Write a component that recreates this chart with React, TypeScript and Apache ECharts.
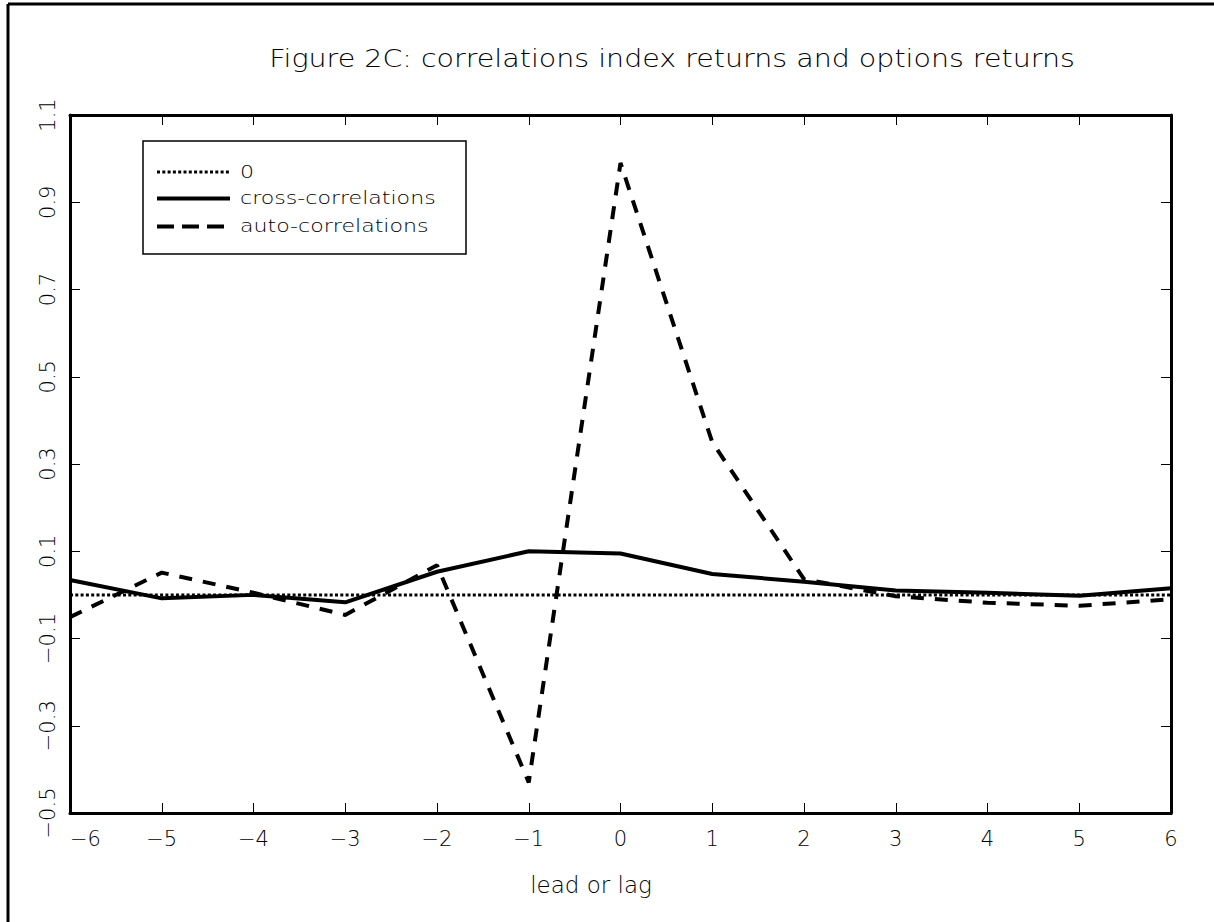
import React, { useEffect, useRef } from "react";
import * as echarts from "echarts";

const lags = [-6, -5, -4, -3, -2, -1, 0, 1, 2, 3, 4, 5, 6];
const zeroLine = [0, 0, 0, 0, 0, 0, 0, 0, 0, 0, 0, 0, 0];
const crossCorr = [0.034, -0.008, 0.0, -0.017, 0.053, 0.1, 0.095, 0.048, 0.03, 0.01, 0.005, -0.002, 0.015];
const autoCorr = [-0.051, 0.051, 0.005, -0.046, 0.068, -0.43, 0.99, 0.35, 0.036, -0.003, -0.018, -0.025, -0.01];
const seriesNames = ["0", "cross-correlations", "auto-correlations"];
const titleText = "Figure 2C: correlations index returns and options returns";
const xTitle = "lead or lag";

const FONT = "'DejaVu Sans', sans-serif";

const fmtMinus = (s: string) => s.replace("-", "\u2212");

export default function App() {
  const ref = useRef<HTMLDivElement>(null);
  useEffect(() => {
    const chart = echarts.init(ref.current!, null, { renderer: "svg" });
    const pairs = (vals: number[]) => lags.map((x, i) => [x, vals[i]]);
    const axisCommon = {
      type: "value" as const,
      axisLine: { show: true, onZero: false, lineStyle: { color: "#000", width: 3 } },
      axisTick: { show: true, inside: true, length: 10, lineStyle: { color: "#000", width: 1 } },
      splitLine: { show: false },
    };
    const option: any = {
      animation: false,
      backgroundColor: "#fff",
      grid: { left: 70, right: 43, top: 115, bottom: 109, containLabel: false },
      xAxis: [
        {
          ...axisCommon,
          position: "bottom",
          min: -6,
          max: 6,
          interval: 1,
          axisLabel: {
            show: true,
            color: "#000",
            fontFamily: FONT,
            fontWeight: 200,
            fontSize: 21,
            margin: 15,
            alignMinLabel: "left",
            formatter: (v: number) => fmtMinus(String(Math.round(v))),
          },
        },
        {
          ...axisCommon,
          position: "top",
          min: -6,
          max: 6,
          interval: 1,
          axisLabel: { show: false },
        },
      ],
      yAxis: [
        {
          ...axisCommon,
          position: "left",
          min: -0.5,
          max: 1.1,
          interval: 0.2,
          axisLabel: {
            show: true,
            color: "#000",
            fontFamily: FONT,
            fontWeight: 200,
            fontSize: 21,
            rotate: 90,
            margin: 12,
            formatter: (v: number) => fmtMinus((Math.round(v * 10) / 10).toFixed(1)),
          },
        },
        {
          ...axisCommon,
          position: "right",
          min: -0.5,
          max: 1.1,
          interval: 0.2,
          axisLabel: { show: false },
        },
      ],
      series: [
        {
          name: seriesNames[0],
          type: "line",
          data: pairs(zeroLine),
          showSymbol: false,
          symbol: "none",
          lineStyle: { color: "#000", width: 3, type: [3, 2.3] },
          z: 2,
        },
        {
          name: seriesNames[1],
          type: "line",
          data: pairs(crossCorr),
          showSymbol: false,
          symbol: "none",
          lineStyle: { color: "#000", width: 4, type: "solid" },
          z: 3,
        },
        {
          name: seriesNames[2],
          type: "line",
          data: pairs(autoCorr),
          showSymbol: false,
          symbol: "none",
          lineStyle: { color: "#000", width: 4, type: [13, 11] },
          z: 4,
        },
      ],
      graphic: [
        {
          type: "line",
          z: 100,
          shape: { x1: 8, y1: 4, x2: 1214, y2: 4 },
          style: { stroke: "#000", lineWidth: 3 },
        },
        {
          type: "line",
          z: 100,
          shape: { x1: 8, y1: 4, x2: 8, y2: 922 },
          style: { stroke: "#000", lineWidth: 3 },
        },
        {
          type: "text",
          z: 100,
          x: 672,
          y: 58,
          scaleX: 1.14,
          style: {
            text: titleText,
            fontFamily: FONT,
            fontWeight: 200,
            fontSize: 25,
            fill: "#000",
            align: "center",
            verticalAlign: "middle",
          },
        },
        {
          type: "text",
          z: 100,
          x: 591,
          y: 885,
          style: {
            text: xTitle,
            fontFamily: FONT,
            fontWeight: 200,
            fontSize: 23,
            fill: "#000",
            align: "center",
            verticalAlign: "middle",
          },
        },
        {
          type: "group",
          z: 100,
          children: [
            {
              type: "rect",
              shape: { x: 143, y: 141, width: 323, height: 113 },
              style: { fill: "#fff", stroke: "#000", lineWidth: 1.5 },
            },
            {
              type: "line",
              shape: { x1: 157, y1: 172, x2: 230, y2: 172 },
              style: { stroke: "#000", lineWidth: 3, lineDash: [3, 2.3] },
            },
            {
              type: "line",
              shape: { x1: 157, y1: 198.5, x2: 230, y2: 198.5 },
              style: { stroke: "#000", lineWidth: 4 },
            },
            {
              type: "line",
              shape: { x1: 157, y1: 226.5, x2: 230, y2: 226.5 },
              style: { stroke: "#000", lineWidth: 4, lineDash: [17, 8] },
            },
            ...seriesNames.map((n, i) => ({
              type: "text",
              x: 240,
              y: [172, 198.5, 226.5][i],
              scaleX: 1.3,
              style: {
                text: n,
                fontFamily: FONT,
                fontWeight: 200,
                fontSize: 17,
                fill: "#000",
                align: "left",
                verticalAlign: "middle",
              },
            })),
          ],
        },
      ],
    };
    chart.setOption(option);
    return () => chart.dispose();
  }, []);
  return (
    <div
      ref={ref}
      style={{ position: "fixed", left: 0, top: 0, width: 1214, height: 922, background: "#fff" }}
    />
  );
}
